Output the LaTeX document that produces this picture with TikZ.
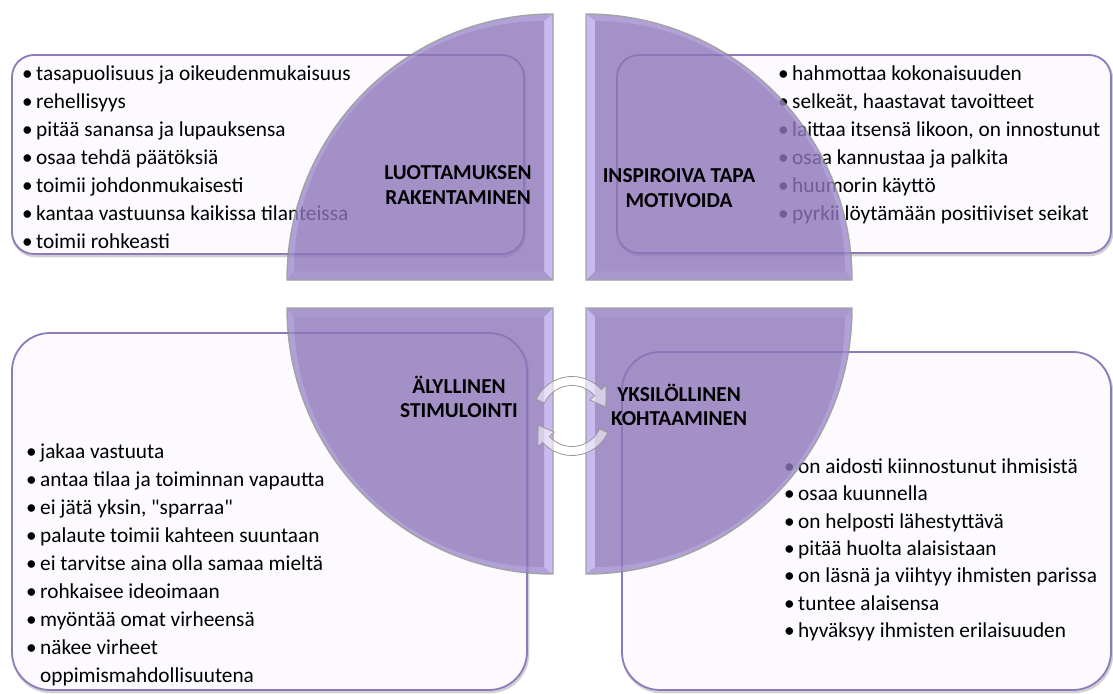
\documentclass[tikz,border=0pt]{standalone}
\usepackage{fontspec}
\setmainfont{Carlito}[Ligatures=TeXOff]
\usetikzlibrary{calc}
\definecolor{boxfill}{RGB}{252,250,254}
\definecolor{boxline}{RGB}{140,122,186}
\definecolor{qmain}{RGB}{140,118,186}
\definecolor{qlight}{RGB}{186,167,234}
\definecolor{qmed}{RGB}{146,126,192}
\definecolor{qarc}{RGB}{158,138,206}
\newcommand{\bi}{\strut\makebox[14pt][l]{•}}
\tikzset{
  boxst/.style={fill=boxfill, draw=boxline, line width=1.8pt},
  boxshadow/.style={draw=black!18, line width=2.5pt},
  itemst/.style={align=left, inner sep=0pt, anchor=north west, font=\fontsize{21.3}{28}\selectfont},
  titlest/.style={align=center, inner sep=0pt, font=\bfseries\fontsize{21.3}{24.5}\selectfont},
  qshadow/.style={draw=black!45, line width=1.4pt},
  arrowst/.style={fill=white, fill opacity=0.55, draw=black!40, line width=0.8pt}
}
\begin{document}
\begin{tikzpicture}[x=1pt,y=-1pt]
\useasboundingbox (0,0) rectangle (1113,693);
% ---------------- boxes
\draw[boxshadow, rounded corners=22] (13,57) rectangle (525,256);
\draw[boxst, rounded corners=22] (12,55) rectangle (524,254);
\draw[boxshadow, rounded corners=22] (618,57) rectangle (1112,255);
\draw[boxst, rounded corners=22] (617,55) rectangle (1111,253);
\draw[boxshadow, rounded corners=38] (13,335) rectangle (528,692);
\draw[boxst, rounded corners=38] (12,333) rectangle (527,690);
\draw[boxshadow, rounded corners=38] (623,354) rectangle (1112,692);
\draw[boxst, rounded corners=38] (622,352) rectangle (1111,690);
% ---------------- box texts
\node[itemst] (t1) at (22,60.4) {\bi tasapuolisuus ja oikeudenmukaisuus\\
\bi rehellisyys\\ \bi pitää sanansa ja lupauksensa\\ \bi osaa tehdä päätöksiä\\
\bi toimii johdonmukaisesti\\ \bi kantaa vastuunsa kaikissa tilanteissa\\ \bi toimii rohkeasti};
\node[itemst] (t2) at (778,60.4) {\bi hahmottaa kokonaisuuden\\ \bi selkeät, haastavat tavoitteet\\
\bi laittaa itsensä likoon, on innostunut\\ \bi osaa kannustaa ja palkita\\
\bi huumorin käyttö\\ \bi pyrkii löytämään positiiviset seikat};
\node[itemst] (t3) at (26,439) {\bi jakaa vastuuta\\ \bi antaa tilaa ja toiminnan vapautta\\
\bi ei jätä yksin, "sparraa"\\ \bi palaute toimii kahteen suuntaan\\
\bi ei tarvitse aina olla samaa mieltä\\ \bi rohkaisee ideoimaan\\
\bi myöntää omat virheensä\\ \bi näkee virheet\\ \strut\hspace*{14pt}oppimismahdollisuutena};
\node[itemst, font=\fontsize{21.3}{27.4}\selectfont] (t4) at (784,454) {\bi on aidosti kiinnostunut ihmisistä\\
\bi osaa kuunnella\\ \bi on helposti lähestyttävä\\ \bi pitää huolta alaisistaan\\
\bi on läsnä ja viihtyy ihmisten parissa\\ \bi tuntee alaisensa\\ \bi hyväksyy ihmisten erilaisuuden};
% ---------------- quadrants
% top-left (corner 553,280)
\begin{scope}[transparency group, opacity=0.8]
\fill[qarc] (553,280) -- (287,280) arc[start angle=180, end angle=270, radius=266] -- cycle;
\fill[qmed] (553,280) -- (287,280) -- (294,271) -- (544,271) -- cycle;
\fill[qlight] (553,14) -- (553,280) -- (544,271) -- (544,21) -- cycle;
\fill[qmain] (544,271) -- (294,271) arc[start angle=180, end angle=270, radius=250] -- cycle;
\draw[qshadow] (553,280) -- (287,280) arc[start angle=180, end angle=270, radius=266] -- cycle;
\end{scope}
% top-right (corner 586,280)
\begin{scope}[transparency group, opacity=0.8]
\fill[qarc] (586,280) -- (586,14) arc[start angle=270, end angle=360, radius=266] -- cycle;
\fill[qmed] (586,280) -- (852,280) -- (845,271) -- (595,271) -- cycle;
\fill[qlight] (586,14) -- (586,280) -- (595,271) -- (595,21) -- cycle;
\fill[qmain] (595,271) -- (595,21) arc[start angle=270, end angle=360, radius=250] -- cycle;
\draw[qshadow] (586,280) -- (586,14) arc[start angle=270, end angle=360, radius=266] -- cycle;
\end{scope}
% bottom-left (corner 553,308)
\begin{scope}[transparency group, opacity=0.8]
\fill[qarc] (553,308) -- (553,574) arc[start angle=90, end angle=180, radius=266] -- cycle;
\fill[qmed] (553,308) -- (287,308) -- (294,317) -- (544,317) -- cycle;
\fill[qlight] (553,308) -- (553,574) -- (544,567) -- (544,317) -- cycle;
\fill[qmain] (544,317) -- (544,567) arc[start angle=90, end angle=180, radius=250] -- cycle;
\draw[qshadow] (553,308) -- (553,574) arc[start angle=90, end angle=180, radius=266] -- cycle;
\end{scope}
% bottom-right (corner 586,308)
\begin{scope}[transparency group, opacity=0.8]
\fill[qarc] (586,308) -- (852,308) arc[start angle=0, end angle=90, radius=266] -- cycle;
\fill[qmed] (586,308) -- (852,308) -- (845,317) -- (595,317) -- cycle;
\fill[qlight] (586,308) -- (586,574) -- (595,567) -- (595,317) -- cycle;
\fill[qmain] (595,317) -- (845,317) arc[start angle=0, end angle=90, radius=250] -- cycle;
\draw[qshadow] (586,308) -- (852,308) arc[start angle=0, end angle=90, radius=266] -- cycle;
\end{scope}
% ---------------- circular arrows
\coordinate (ac) at (572,416);
\draw[arrowst] ($(ac)+(205:39.5)$) arc[start angle=205, end angle=318, radius=39.5]
  -- ($(ac)+(318:46)$) -- ($(ac)+(345:35)$) -- ($(ac)+(318:24)$) -- ($(ac)+(318:30.5)$)
  arc[start angle=318, end angle=205, radius=30.5] -- cycle;
\draw[arrowst] ($(ac)+(25:39.5)$) arc[start angle=25, end angle=138, radius=39.5]
  -- ($(ac)+(138:46)$) -- ($(ac)+(165:35)$) -- ($(ac)+(138:24)$) -- ($(ac)+(138:30.5)$)
  arc[start angle=138, end angle=25, radius=30.5] -- cycle;
% ---------------- titles
\node[titlest] (h1) at (458,185) {LUOTTAMUKSEN\\RAKENTAMINEN};
\node[titlest] (h2) at (679,188) {INSPIROIVA TAPA\\MOTIVOIDA};
\node[titlest] (h3) at (459,397) {ÄLYLLINEN\\STIMULOINTI};
\node[titlest] (h4) at (679,405) {YKSILÖLLINEN\\KOHTAAMINEN};
\end{tikzpicture}
\end{document}
